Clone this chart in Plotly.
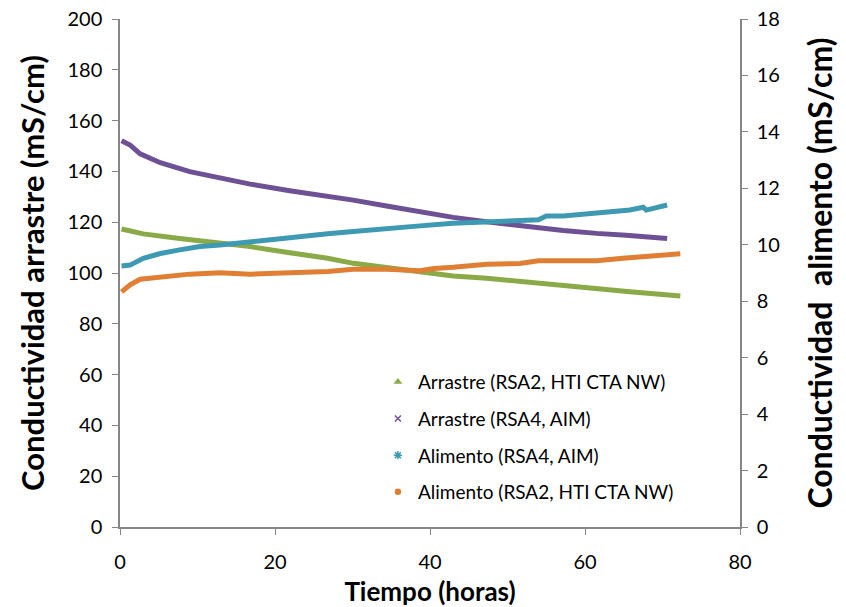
import plotly.graph_objects as go

# Arrastre (RSA2, HTI CTA NW) - left axis, mS/cm
t_arr2 = [0.2, 3.0, 7.7, 12.9, 16.8, 21.9, 26.8, 30.1, 34.4, 38.7, 43.0, 47.3, 51.6, 54.0, 57.2, 61.5, 65.8, 72.3]
v_arr2 = [117.3, 115.4, 113.6, 111.9, 110.4, 108.0, 105.8, 103.8, 102.2, 100.5, 98.8, 97.9, 96.6, 96.3, 95.3, 94.0, 92.6, 90.9]

# Arrastre (RSA4, AIM) - left axis, mS/cm
t_arr4 = [0.2, 1.3, 2.6, 5.2, 9.0, 12.9, 16.8, 21.9, 26.8, 30.1, 34.4, 38.7, 43.0, 47.3, 51.6, 54.0, 57.2, 61.5, 64.9, 65.3, 70.6]
v_arr4 = [152.1, 150.4, 146.9, 143.4, 139.9, 137.3, 135.0, 132.4, 130.3, 128.7, 126.4, 124.1, 121.9, 120.2, 118.5, 117.6, 116.7, 115.6, 114.6, 114.9, 113.6]

# Alimento (RSA4, AIM) - right axis, mS/cm
t_ali4 = [0.2, 1.3, 3.0, 5.2, 7.7, 10.3, 12.9, 16.8, 21.9, 26.8, 30.1, 34.4, 38.7, 43.0, 47.3, 51.6, 54.0, 55.0, 57.2, 61.5, 65.8, 67.5, 67.9, 70.6]
v_ali4 = [9.25, 9.28, 9.52, 9.69, 9.82, 9.94, 9.99, 10.11, 10.26, 10.39, 10.47, 10.55, 10.67, 10.76, 10.82, 10.88, 10.89, 11.02, 11.02, 11.13, 11.23, 11.33, 11.23, 11.41]

# Alimento (RSA2, HTI CTA NW) - right axis, mS/cm
t_ali2 = [0.2, 1.3, 2.6, 5.2, 9.0, 12.9, 16.8, 21.9, 26.8, 30.1, 34.4, 38.7, 40.5, 43.0, 47.3, 51.6, 54.0, 57.2, 61.5, 64.9, 67.9, 72.3]
v_ali2 = [8.33, 8.58, 8.78, 8.87, 8.96, 9.01, 8.96, 9.01, 9.05, 9.13, 9.13, 9.08, 9.16, 9.20, 9.31, 9.34, 9.43, 9.43, 9.43, 9.52, 9.60, 9.68]

names = ["Arrastre (RSA2, HTI CTA NW)", "Arrastre (RSA4, AIM)",
         "Alimento (RSA4, AIM)", "Alimento (RSA2, HTI CTA NW)"]
colors = ["#8aaa48", "#6e5095", "#3d9ab2", "#e07f33"]
symbols = ["triangle-up", "x-thin-open", "asterisk-open", "circle"]
sizes = [5, 6, 7, 5]

FONT = "Lato"
fig = go.Figure()

series = [(t_arr2, v_arr2, "y"), (t_arr4, v_arr4, "y"),
          (t_ali4, v_ali4, "y2"), (t_ali2, v_ali2, "y2")]

for (t, v, ax), name, c in zip(series, names, colors):
    fig.add_trace(go.Scatter(x=t, y=v, yaxis=ax, mode="lines",
                             line=dict(color=c, width=5),
                             showlegend=False, hoverinfo="skip"))

# legend entries with small point symbols, one group each for spacing
for i, (name, c, s, sz) in enumerate(zip(names, colors, symbols, sizes)):
    fig.add_trace(go.Scatter(x=[None], y=[None], mode="markers", name=name,
                             legendgroup=f"g{i}",
                             marker=dict(color=c, symbol=s, size=sz,
                                         line=dict(color=c, width=1.5))))

axis_line = "#868686"
tick_font = dict(size=20, family=FONT, color="#000000")
fig.update_layout(
    width=846, height=607,
    margin=dict(l=120, r=106, t=19, b=80),
    plot_bgcolor="white", paper_bgcolor="white",
    font=dict(family=FONT, color="#000000"),
    xaxis=dict(range=[0, 80], dtick=20, showgrid=False, zeroline=False,
               automargin=False,
               showline=True, linecolor=axis_line, linewidth=1.5,
               ticks="outside", ticklen=6, tickcolor=axis_line,
               ticklabelstandoff=10, tickfont=tick_font,
               title=dict(text="<b>Tiempo (horas)</b>", font=dict(size=26, family=FONT), standoff=11)),
    yaxis=dict(range=[0, 200], dtick=20, showgrid=False, zeroline=False,
               automargin=False,
               showline=True, linecolor=axis_line, linewidth=1.5,
               ticks="outside", ticklen=6, tickcolor=axis_line,
               ticklabelstandoff=6, tickfont=tick_font,
               title=dict(text="<b>Conductividad arrastre (mS/cm)</b>", font=dict(size=31, family=FONT), standoff=14)),
    yaxis2=dict(range=[0, 18], dtick=2, overlaying="y", side="right",
                showgrid=False, zeroline=False, automargin=False,
                showline=True, linecolor=axis_line, linewidth=1.5,
                ticks="outside", ticklen=6, tickcolor=axis_line,
                ticklabelstandoff=5, tickfont=tick_font,
                title=dict(text="<b>Conductividad  alimento (mS/cm)</b>", font=dict(size=32, family=FONT), standoff=30)),
    legend=dict(x=0.416, y=0.323, xanchor="left", yanchor="top",
                bgcolor="rgba(0,0,0,0)", font=dict(size=19, family=FONT),
                tracegroupgap=9, itemsizing="trace", itemwidth=30),
)

fig.write_html("out.html")
